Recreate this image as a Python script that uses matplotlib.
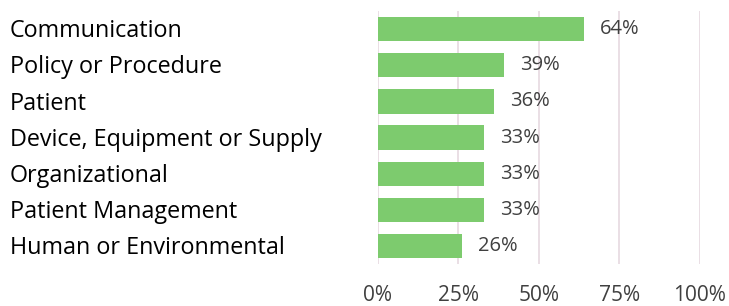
import matplotlib
matplotlib.use("Agg")
import matplotlib.pyplot as plt

# categories top to bottom, shares in percent
categories = ["Communication", "Policy or Procedure", "Patient",
              "Device, Equipment or Supply", "Organizational",
              "Patient Management", "Human or Environmental"]
values = [64, 39, 36, 33, 33, 33, 26]
ticks = [0, 25, 50, 75, 100]
tick_labels = ["0%", "25%", "50%", "75%", "100%"]

plt.rcParams['font.family'] = ['Open Sans', 'DejaVu Sans']

fig = plt.figure(figsize=(7.29, 3.06), dpi=100)
ax = fig.add_axes([0.5185, 0.137, 0.4417, 0.827])

pos = list(range(len(categories)))
ax.barh(pos, values, height=0.67, color="#7DCB6E", zorder=3)
ax.set_ylim(len(categories) - 0.5, -0.5)
ax.set_xlim(0, 100)

ax.set_xticks(ticks)
ax.set_xticklabels(tick_labels, fontsize=15, color="#404040")
ax.tick_params(axis='x', length=0, pad=15)
ax.set_yticks([])
ax.grid(axis='x', color="#E8DCE3", linewidth=1.3, zorder=0)
for s in ax.spines.values():
    s.set_visible(False)

for p, v, c in zip(pos, values, categories):
    ax.text(v + 5, p, f"{v}%", va='center', ha='left', fontsize=14.5, color="#404040")
    fig.text(10 / 729, 1 - (13 + 36.2 * (p + 0.5)) / 306, c, va='center', ha='left',
             fontsize=16.8, color="black")

fig.savefig("out.png", dpi=100)
